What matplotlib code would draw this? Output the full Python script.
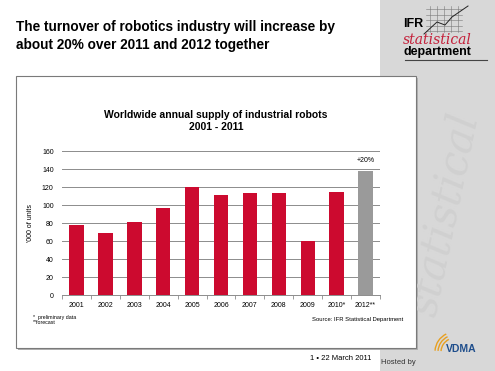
import matplotlib.pyplot as plt
from matplotlib.patches import Rectangle, Arc

plt.rcParams['font.family'] = ['Liberation Sans', 'DejaVu Sans']

# datos del grafico
years = ['2001', '2002', '2003', '2004', '2005', '2006', '2007', '2008', '2009', '2010*', '2012**']
units = [78, 69, 81, 97, 120, 111, 113, 113, 60, 115, 138]
forecast = [False] * 10 + [True]
yticks = [0, 20, 40, 60, 80, 100, 120, 140, 160]

W, H = 495, 371
red = '#cc0a2f'
grey_bar = '#9a9a9a'


def fx(x):
    return x / W


def fy(y):
    return 1 - y / H


fig = plt.figure(figsize=(4.95, 3.71), dpi=100)
fig.patch.set_facecolor('white')

# panel gris de la derecha
fig.patches.append(Rectangle((fx(380), 0), 1 - fx(380), 1, transform=fig.transFigure,
                             facecolor='#d8d8d8', edgecolor='none', zorder=0))
fig.text(fx(445), fy(215), 'statistical', rotation=78, fontsize=30, style='italic',
         color='#d0d0d0', ha='center', va='center', family='DejaVu Serif', zorder=1)

# caja del grafico
fig.patches.append(Rectangle((fx(18), fy(350)), fx(400), fy(78) - fy(350), transform=fig.transFigure,
                             facecolor='#b0b0b0', edgecolor='none', zorder=1))
fig.patches.append(Rectangle((fx(16), fy(348)), fx(400), fy(76) - fy(348), transform=fig.transFigure,
                             facecolor='white', edgecolor='#7a7a7a', linewidth=0.8, zorder=2))

# titulo principal
fig.text(fx(16), fy(36), 'The turnover of robotics industry will increase by\nabout 20% over 2011 and 2012 together',
         fontsize=9.8, fontweight='bold', ha='left', va='center', linespacing=1.3)

# logo IFR
fig.text(fx(403), fy(24), 'IFR', fontsize=9, fontweight='bold', ha='left', va='center')
fig.text(fx(403), fy(40), 'statistical', fontsize=10, style='italic', color='#c4203a',
         ha='left', va='center', family='DejaVu Serif')
fig.text(fx(403), fy(52), 'department', fontsize=9, fontweight='bold', ha='left', va='center')
fig.add_artist(plt.Line2D([fx(405), fx(487)], [fy(60), fy(60)], transform=fig.transFigure,
                          color='#444444', linewidth=0.8))
for i in range(5):
    fig.add_artist(plt.Line2D([fx(430 + i * 7), fx(430 + i * 7)], [fy(6), fy(32)],
                              transform=fig.transFigure, color='#777777', linewidth=0.4))
    fig.add_artist(plt.Line2D([fx(426), fx(462)], [fy(9 + i * 5.5), fy(9 + i * 5.5)],
                              transform=fig.transFigure, color='#777777', linewidth=0.4))
fig.add_artist(plt.Line2D([fx(424), fx(437), fx(445), fx(452), fx(468)],
                          [fy(34), fy(22), fy(25), fy(17), fy(6)],
                          transform=fig.transFigure, color='#222222', linewidth=0.7))

# titulo del grafico
fig.text(fx(216), fy(121), 'Worldwide annual supply of industrial robots\n2001 - 2011',
         fontsize=7.5, fontweight='bold', ha='center', va='center', linespacing=1.35, zorder=3)

ax = fig.add_axes([fx(62), fy(295), fx(380) - fx(62), fy(151) - fy(295)], zorder=3)
ax.set_facecolor('none')
colores = [grey_bar if f else red for f in forecast]
ax.bar(range(len(years)), units, width=0.5, color=colores, zorder=3)
ax.set_xlim(-0.5, len(years) - 0.5)
ax.set_ylim(0, 160)
ax.set_yticks(yticks)
ax.grid(axis='y', color='#8c8c8c', linewidth=0.7, zorder=0)
for s in ['top', 'right', 'left']:
    ax.spines[s].set_visible(False)
ax.spines['bottom'].set_color('#8c8c8c')
ax.spines['bottom'].set_linewidth(0.7)
ax.set_xticks(range(len(years)))
ax.set_xticklabels(years)
ax.set_xticks([i + 0.5 for i in range(-1, len(years))], minor=True)
ax.tick_params(axis='x', which='major', length=0, labelsize=5, pad=5)
ax.tick_params(axis='x', which='minor', length=3, color='#8c8c8c', width=0.6)
ax.tick_params(axis='y', length=0, labelsize=5, pad=6)
ax.set_ylabel("'000 of units", fontsize=5, labelpad=6)
ax.text(10, 150, '+20%', fontsize=5, ha='center', va='center')

# notas al pie
fig.text(fx(33), fy(317), '*  preliminary data', fontsize=3.8, ha='left', va='center', zorder=3)
fig.text(fx(33), fy(323), '**forecast', fontsize=3.8, ha='left', va='center', zorder=3)
fig.text(fx(403), fy(319), 'Source: IFR Statistical Department', fontsize=4.2, ha='right', va='center', zorder=3)

# pie de pagina
fig.text(fx(310), fy(358), '1 \u2022 22 March 2011', fontsize=5.5, ha='left', va='center')
fig.text(fx(381), fy(363), 'Hosted by', fontsize=5.5, ha='left', va='center', color='#333333')
fig.text(fx(446), fy(349), 'VDMA', fontsize=7.5, fontweight='bold', color='#1f4e8c', ha='left', va='center')
for r in [14, 17, 20]:
    fig.add_artist(Arc((fx(455), fy(352)), fx(r * 2), fy(0) - fy(r * 2), theta1=110, theta2=175,
                       transform=fig.transFigure, color='#e8a020', linewidth=1.0))

fig.savefig('out.png', dpi=100)
